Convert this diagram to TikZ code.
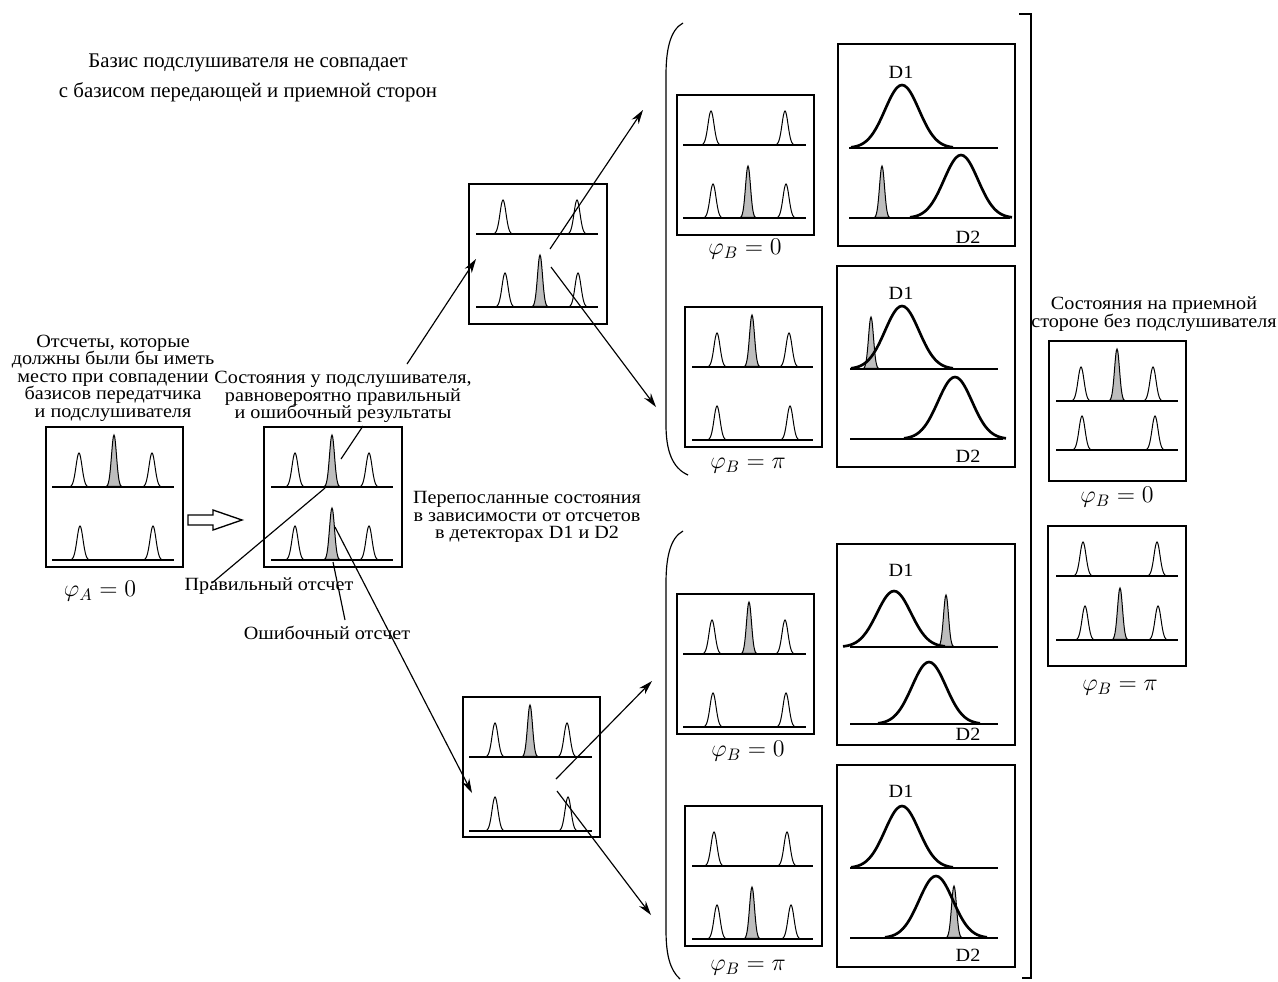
\documentclass[tikz,border=0pt]{standalone}
\usepackage{fontspec}
\setmainfont{Liberation Serif}
\newfontfamily\widefont{Liberation Serif}[FakeStretch=1.08]
\usetikzlibrary{arrows.meta}

\definecolor{peakgray}{gray}{0.74}

\tikzset{
  frame/.style={line width=1.1pt},
  axisline/.style={line width=0.9pt},
  peakline/.style={line width=0.6pt},
  detline/.style={line width=1.6pt},
  link/.style={line width=0.7pt},
  arrowlink/.style={line width=0.7pt,-{Stealth[length=8.5pt,width=5pt]}},
  txt/.style={font=\widefont\fontsize{11.2}{10.5}\selectfont,align=center,inner sep=0pt},
  bigtxt/.style={font=\fontsize{12.5}{18}\selectfont,align=center,inner sep=0pt},
  phase/.style={font=\fontsize{14.4}{17}\selectfont,inner sep=0pt},
}

% narrow white peak, narrow gray peak, broad detector curve
\newcommand{\wpk}[2]{\draw[peakline] plot[variable=\t,domain=-9:9,samples=25,smooth] ({#1+\t},{#2-34*exp(-((\t)*(\t))/18)});}
\newcommand{\gpk}[2]{\filldraw[peakline,fill=peakgray] plot[variable=\t,domain=-7.5:7.5,samples=25,smooth] ({#1+\t},{#2-52*exp(-((\t)*(\t))/12.5)}) -- cycle;}
\newcommand{\dpk}[3]{\draw[detline] plot[variable=\t,domain=-51:51,samples=41,smooth] ({#1+\t},{#2-#3*exp(-((\t)*(\t))/578)});}

\begin{document}
\begin{tikzpicture}[x=0.6pt,y=-0.6pt]
  \useasboundingbox (0,0) rectangle (1278,981);

  % frames
  \foreach \xa/\ya/\xb/\yb in {46/427/183/567, 264/427/402/567, 469/184/607/324,
      463/697/600/837, 677/95/814/235, 838/44/1015/246, 685/307/822/447,
      837/266/1015/467, 677/594/814/734, 837/544/1015/745, 685/806/822/946,
      837/765/1015/967, 1049/341/1186/481, 1048/526/1186/666}
    \draw[frame] (\xa,\ya) rectangle (\xb,\yb);

  % base lines
  \foreach \xa/\xb/\py in {52/174/487, 52/174/560, 271/393/487, 271/393/560,
      476/598/234, 476/598/307, 469/592/757, 469/592/831, 683/806/145, 683/806/218,
      692/813/367, 692/813/440, 683/806/654, 683/806/727, 692/813/866, 692/813/939,
      849/998/148, 849/1010/218, 850/998/369, 850/1003/439, 850/998/647, 850/998/724,
      850/998/868, 850/998/938, 1056/1178/401, 1056/1178/450, 1056/1178/576, 1056/1178/640}
    \draw[axisline] (\xa,\py) -- (\xb,\py);

  % counts
  \foreach \px/\py in {79/487, 152/487, 80/560, 153/560, 295/487, 369/487, 295/560, 369/560,
      503/234, 577/234, 505/307, 578/307, 495/757, 567/757, 495/831, 568/831,
      711/145, 785/145, 713/218, 786/218, 717/367, 789/367, 717/440, 790/440,
      712/654, 785/654, 713/727, 786/727, 714/866, 787/866, 717/939, 791/939,
      1081/401, 1153/401, 1082/450, 1155/450, 1083/576, 1157/576, 1085/640, 1158/640}
    {\wpk{\px}{\py}}
  \foreach \px/\py in {114/487, 332/487, 332/560, 540/307, 530/757, 748/218, 752/367,
      749/654, 752/939, 882/218, 871/369, 946/647, 954/938, 1117/401, 1120/640}
    {\gpk{\px}{\py}}

  % detectors
  \foreach \px/\py/\h in {902/148/63, 961/218/63, 902/369/63, 955/439/62,
      894/647/56, 929/724/62, 902/868/62, 936/938/62}
    {\dpk{\px}{\py}{\h}}
  \foreach \n/\px/\py in {da/901/72, db/901/293, dc/901/570, dd/901/791}
    \node[txt] (\n) at (\px,\py) {D1};
  \foreach \n/\px/\py in {ea/968/237, eb/968/456, ec/968/734, ed/968/955}
    \node[txt] (\n) at (\px,\py) {D2};

  % texts
  \node[bigtxt] (title) at (248,78) {Базис подслушивателя не совпадает\\с базисом передающей и приемной сторон};
  \node[txt] (ideal) at (113,378) {Отсчеты, которые\\должны были бы иметь\\место при совпадении\\базисов передатчика\\и подслушивателя};
  \node[txt] (eve) at (343,397) {Состояния у подслушивателя,\\равновероятно правильный\\и ошибочный результаты};
  \node[txt] (resent) at (527,517) {Перепосланные состояния\\в зависимости от отсчетов\\в детекторах D1 и D2};
  \node[txt] (bob) at (1154,314) {Состояния на приемной\\стороне без подслушивателя};
  \node[txt] (right) at (269,586) {Правильный отсчет};
  \node[txt] (wrong) at (327,633) {Ошибочный отсчет};

  \node[phase] (phiA) at (100,591) {$\varphi_A = 0$};
  \node[phase] (phiU0) at (745,249) {$\varphi_B = 0$};
  \node[phase] (phiUpi) at (748,466) {$\varphi_B = \pi$};
  \node[phase] (phiL0) at (748,751) {$\varphi_B = 0$};
  \node[phase] (phiLpi) at (748,968) {$\varphi_B = \pi$};
  \node[phase] (phiR0) at (1117,497) {$\varphi_B = 0$};
  \node[phase] (phiRpi) at (1120,688) {$\varphi_B = \pi$};

  % hollow arrow
  \draw[line width=0.8pt] (188,515) -- (213,515) -- (213,510) -- (242,520)
    -- (213,530) -- (213,525) -- (188,525) -- cycle;

  % leaders
  \coordinate (eveEnd) at (363,426);  \coordinate (evePk) at (341,459);
  \coordinate (rightPk) at (325,488); \coordinate (rightEnd) at (212,583);
  \coordinate (wrongPk) at (333,562); \coordinate (wrongEnd) at (345,620);
  \draw[link] (eveEnd) -- (evePk);
  \draw[link] (rightPk) -- (rightEnd);
  \draw[link] (wrongPk) -- (wrongEnd);

  % arrows
  \coordinate (bUp) at (407,364);   \coordinate (cIn) at (476,259);
  \coordinate (cOutA) at (550,249); \coordinate (uTop) at (643,110);
  \coordinate (cOutB) at (551,267); \coordinate (uBot) at (656,407);
  \coordinate (bDown) at (335,527); \coordinate (eIn) at (472,793);
  \coordinate (eOutA) at (556,779); \coordinate (lTop) at (652,681);
  \coordinate (eOutB) at (557,791); \coordinate (lBot) at (651,915);
  \draw[arrowlink] (bUp) -- (cIn);
  \draw[arrowlink] (cOutA) -- (uTop);
  \draw[arrowlink] (cOutB) -- (uBot);
  \draw[arrowlink] (bDown) -- (eIn);
  \draw[arrowlink] (eOutA) -- (lTop);
  \draw[arrowlink] (eOutB) -- (lBot);

  % brackets
  \draw[link] (683,23) .. controls (670,30) and (666,50) .. (666,75) -- (666,425)
    .. controls (666,450) and (672,468) .. (688,475);
  \draw[link] (683,531) .. controls (670,538) and (666,558) .. (666,583) -- (666,930)
    .. controls (666,955) and (670,970) .. (680,979);
  \draw[line width=0.9pt] (1019,14) -- (1031,14) -- (1031,978) -- (1022,978);
\end{tikzpicture}
\end{document}
